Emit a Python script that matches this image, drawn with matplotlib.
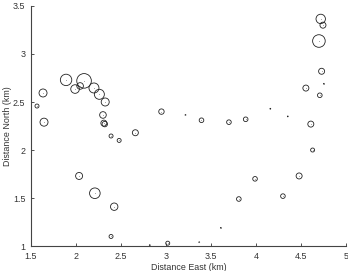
import matplotlib
matplotlib.use("Agg")
import matplotlib.pyplot as plt

plt.rcParams['font.family'] = ['Liberation Sans', 'DejaVu Sans']

# event locations (km) and circle radius (px)
east = [1.567, 1.634, 1.645, 1.89, 1.99, 2.046, 2.09, 2.20, 2.26, 2.325,
        2.30, 2.31, 2.32, 2.39, 2.48, 2.66, 2.95, 2.035, 2.21, 2.425,
        2.39, 3.02, 4.72, 4.745, 4.70, 4.73, 4.555, 4.71, 3.395, 3.70,
        3.886, 4.61, 4.63, 4.48, 3.99, 3.81, 4.30,
        3.217, 4.16, 4.354, 4.755, 3.61, 3.37, 2.82]
north = [2.458, 2.594, 2.29, 2.73, 2.635, 2.667, 2.72, 2.646, 2.58, 2.50,
         2.365, 2.28, 2.27, 2.146, 2.10, 2.18, 2.40, 1.73, 1.55, 1.41,
         1.10, 1.03, 3.365, 3.30, 3.135, 2.82, 2.645, 2.57, 2.31, 2.29,
         2.32, 2.27, 2.00, 1.73, 1.70, 1.49, 1.52,
         2.365, 2.43, 2.35, 2.69, 1.19, 1.04, 1.01]
radius = [2.0, 4.0, 4.0, 5.7, 4.3, 3.3, 7.3, 5.0, 5.0, 4.0,
          3.3, 3.0, 2.7, 2.0, 2.0, 3.0, 2.7, 3.5, 5.3, 3.7,
          2.0, 2.0, 4.7, 3.0, 6.3, 3.0, 3.0, 2.3, 2.3, 2.3,
          2.3, 3.0, 2.0, 3.0, 2.3, 2.3, 2.3,
          0.4, 0.4, 0.4, 0.4, 0.4, 0.4, 0.4]

def main():
    fig = plt.figure(figsize=(3.48, 2.71), dpi=100)
    ax = fig.add_axes([0.089, 0.092, 0.905, 0.886])

    sizes = [(1.44 * r) ** 2 for r in radius]
    ax.scatter(east, north, s=sizes, facecolors='none', edgecolors='#222222',
               linewidths=0.6)
    ax.scatter(east, north, s=0.3, c='#888888', linewidths=0)

    ax.set_xlim(1.5, 5)
    ax.set_ylim(1, 3.5)
    ax.set_xticks([1.5, 2, 2.5, 3, 3.5, 4, 4.5, 5])
    ax.set_xticklabels(['1.5', '2', '2.5', '3', '3.5', '4', '4.5', '5'])
    ax.set_yticks([1, 1.5, 2, 2.5, 3, 3.5])
    ax.set_yticklabels(['1', '1.5', '2', '2.5', '3', '3.5'])
    ax.tick_params(direction='in', length=2, width=0.6, labelsize=6.4,
                   colors='#333333')
    ax.tick_params(axis='x', pad=4)
    ax.tick_params(axis='y', pad=4)
    for side in ['top', 'right']:
        ax.spines[side].set_visible(False)
    for side in ['left', 'bottom']:
        ax.spines[side].set_linewidth(0.8)
        ax.spines[side].set_color('#444444')

    ax.set_xlabel('Distance East (km)', fontsize=6.4, color='#333333', labelpad=1.5)
    ax.set_ylabel('Distance North (km)', fontsize=6.4, color='#333333', labelpad=1)

    fig.savefig('out.png', dpi=100)

if __name__ == '__main__':
    main()
